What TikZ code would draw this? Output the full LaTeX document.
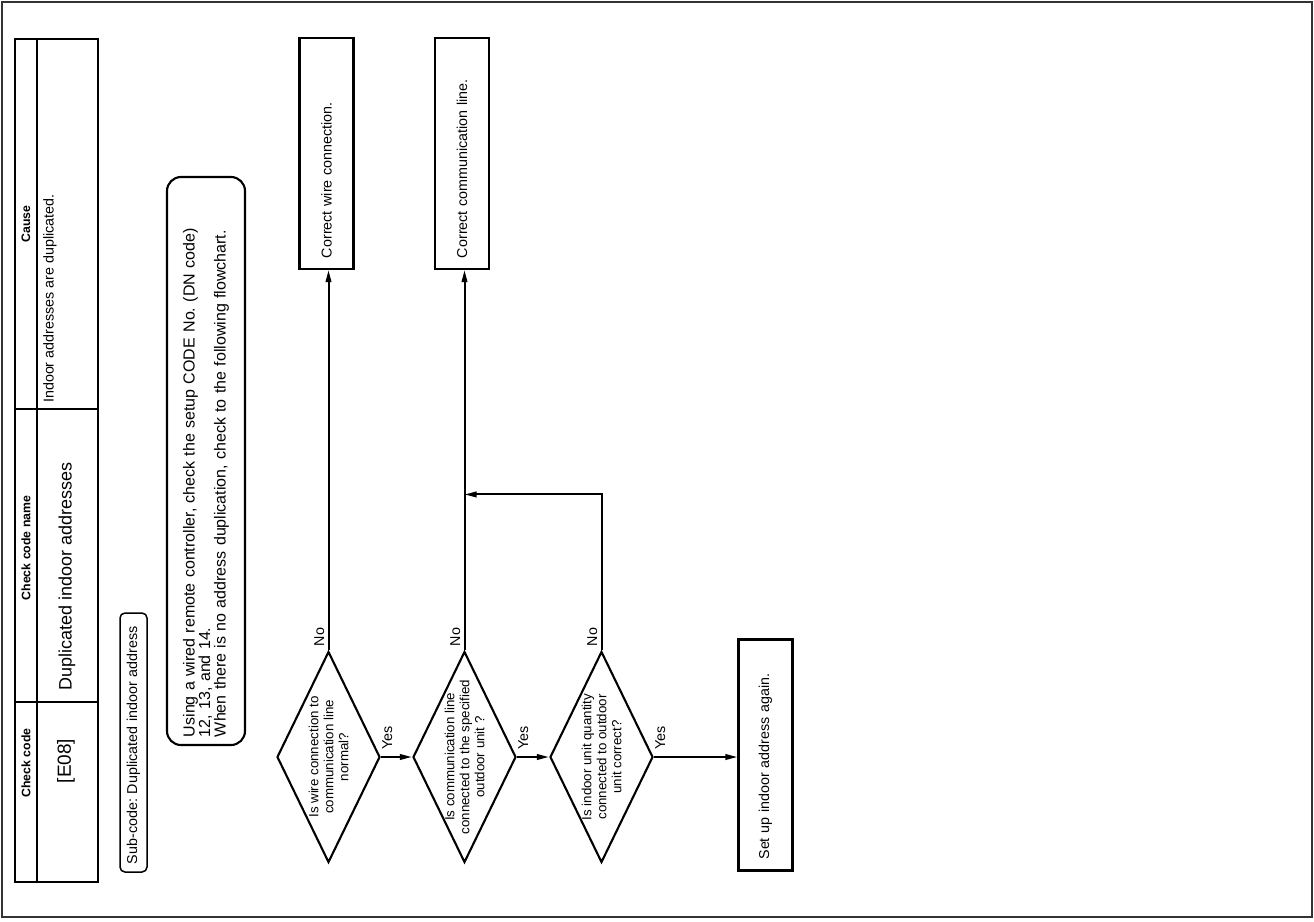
\documentclass[tikz,border=0pt]{standalone}
\usepackage{fontspec}
\setmainfont{Liberation Sans}
\frenchspacing
\usetikzlibrary{arrows.meta,shapes.geometric}

\begin{document}
\begin{tikzpicture}[x=1pt, y=-1pt, >={Triangle[length=12pt,width=5.5pt]},
    every node/.style={inner sep=0pt},
    side/.style={rotate=90},
    txt/.style={font=\fontsize{14.3}{16}\selectfont},
    head/.style={rotate=90, font=\bfseries\fontsize{12.3}{14}\selectfont},
    box/.style={draw, line width=2.1pt, rotate=90, minimum width=231pt, minimum height=54pt,
      text width=209pt, align=left, txt},
    quest/.style={draw, shape=diamond, line width=2.1pt, rotate=90, minimum width=211pt, minimum height=103pt},
    qtext/.style={rotate=90, align=center, font=\fontsize{13.3}{15}\selectfont},
    answer/.style={rotate=90, txt},
    flow/.style={->, line width=2pt}]
    \useasboundingbox (0,0) rectangle (1314,921);
    \draw[line width=1.8pt, black!80] (2,2) rectangle (1312,917);

    % check code table
    \draw[line width=2.8pt] (15,39) rectangle (98,882);
    \draw[line width=1.4pt] (37,39) -- (37,882);
    \draw[line width=1.4pt] (15,409) -- (98,409);
    \draw[line width=1.4pt] (15,702) -- (98,702);
    \node[head] (hcause) at (26,224) {Cause};
    \node[head] (hname) at (26,548) {Check code name};
    \node[head] (hcode) at (26,763) {Check code};
    \node[side, txt, anchor=west] (cause) at (50,403) {Indoor addresses are duplicated.};
    \node[side, font=\fontsize{18}{20}\selectfont] (name) at (67,576) {Duplicated indoor addresses};
    \node[side, font=\fontsize{19}{21}\selectfont] (code) at (66,761) {[E08]};

    \node[draw, line width=1.5pt, rounded corners=5pt, rotate=90, minimum width=259pt, minimum height=27pt,
      text width=243pt, align=left, txt] (sub) at (133.5,742.5) {Sub-code: Duplicated indoor address};

    \node[draw, line width=2.1pt, rounded corners=14pt, rotate=90, minimum width=568pt, minimum height=78pt,
      text width=552pt, align=left, font=\fontsize{16}{15.5}\selectfont] (note) at (206,461)
      {Using a wired remote controller, check the setup CODE No. (DN code)\\12, 13, and 14.\\When there is no address duplication, check to the following flowchart.};

    % flowchart
    \node[quest] (q1) at (328.5,757) {};
    \node[quest] (q2) at (464.5,757) {};
    \node[quest] (q3) at (601.5,757) {};
    \node[qtext] (q1t) at (q1) {Is wire connection to\\communication line\\normal?};
    \node[qtext] (q2t) at (q2) {Is communication line\\connected to the specified\\outdoor unit ?};
    \node[qtext] (q3t) at (q3) {Is indoor unit quantity\\connected to outdoor\\unit correct?};

    \node[box] (fix1) at (326.5,153.5) {Correct wire connection.};
    \node[box] (fix2) at (462,153.5) {Correct communication line.};
    \node[box] (redo) at (765.5,755) {Set up indoor address again.};

    \draw[flow] (q1.south) -- (q2.north);
    \draw[flow] (q2.south) -- (q3.north);
    \draw[flow] (q3.south) -- (q3.south -| redo.north);
    \draw[flow] (q1.east) -- (q1.east |- fix1.west);
    \draw[flow] (q2.east) -- (q2.east |- fix2.west);
    \path (q2.east) ++(0,-156) coordinate (merge);
    \draw[flow] (q3.east) |- (merge);

    \foreach \q in {q1,q2,q3} {
      \node[answer, anchor=north west] (\q yes) at ([xshift=1pt,yshift=7pt]\q.south) {Yes};
      \node[answer, anchor=south west] (\q no) at ([xshift=-4pt,yshift=4pt]\q.east) {No};
    }
\end{tikzpicture}
\end{document}
